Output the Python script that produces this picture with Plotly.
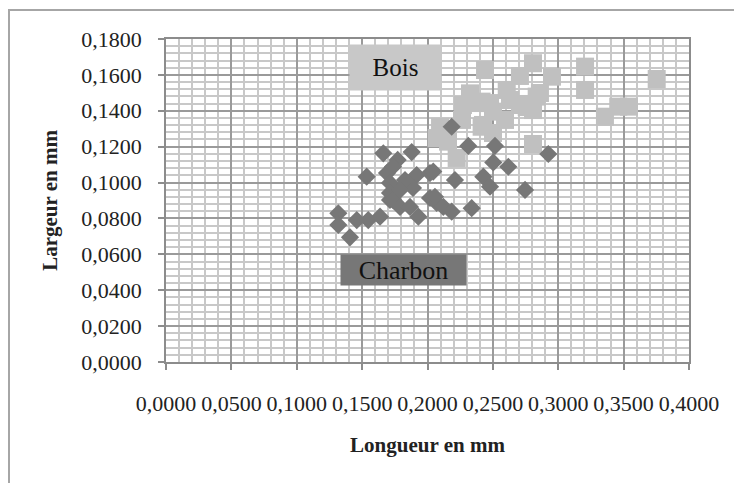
import plotly.graph_objects as go

# Charbon (dark diamonds): Longueur (x), Largeur (y) in mm
charbon_x = [0.1318, 0.1318, 0.1407, 0.1459, 0.1547, 0.1637, 0.1535, 0.1662, 0.1879, 0.1772,
             0.1690, 0.1713, 0.1713, 0.1736, 0.1917, 0.2019, 0.1889, 0.1713, 0.1736, 0.1790,
             0.1866, 0.1930, 0.2019, 0.2070, 0.2121, 0.2185, 0.2338, 0.2057, 0.2044, 0.2210,
             0.2185, 0.2312, 0.2516, 0.2924, 0.2503, 0.2618, 0.2427, 0.2478, 0.2746, 0.1828,
             0.1790]
charbon_y = [0.0829, 0.0764, 0.0695, 0.0791, 0.0791, 0.0810, 0.1033, 0.1163, 0.1170, 0.1126,
             0.1053, 0.0998, 0.0903, 0.1088, 0.1042, 0.1053, 0.0970, 0.0942, 0.0903, 0.0864,
             0.0864, 0.0810, 0.0914, 0.0886, 0.0865, 0.0838, 0.0857, 0.0921, 0.1061, 0.1014,
             0.1311, 0.1204, 0.1204, 0.1159, 0.1112, 0.1088, 0.1033, 0.0977, 0.0959, 0.1014,
             0.0959]

# Bois (light squares)
bois_x = [0.2440, 0.2807, 0.2707, 0.2952, 0.3205, 0.3205, 0.3753, 0.2325, 0.2271, 0.2414,
          0.2501, 0.2606, 0.2631, 0.2746, 0.2835, 0.2807, 0.3357, 0.3459, 0.3541, 0.2096,
          0.2070, 0.2157, 0.2223, 0.2414, 0.2501, 0.2807, 0.2478, 0.2401, 0.2759, 0.2860,
          0.2424, 0.2707, 0.2264, 0.2593]
bois_y = [0.1627, 0.1665, 0.1594, 0.1590, 0.1646, 0.1516, 0.1577, 0.1497, 0.1432, 0.1451,
          0.1395, 0.1516, 0.1460, 0.1438, 0.1479, 0.1404, 0.1367, 0.1423, 0.1423, 0.1311,
          0.1248, 0.1228, 0.1137, 0.1311, 0.1276, 0.1215, 0.1443, 0.1443, 0.1421, 0.1499,
          0.1321, 0.1432, 0.1349, 0.1349]

x_ticks = [0.0, 0.05, 0.10, 0.15, 0.20, 0.25, 0.30, 0.35, 0.40]
y_ticks = [0.0, 0.02, 0.04, 0.06, 0.08, 0.10, 0.12, 0.14, 0.16, 0.18]

FONT = "Liberation Serif"
BOIS_COL = "#c0c0c0"
CHARBON_COL = "#777777"

fig = go.Figure()
fig.add_trace(go.Scatter(x=bois_x, y=bois_y, mode="markers", name="Bois",
                         marker=dict(symbol="square", size=18, color=BOIS_COL, line=dict(width=0))))
fig.add_trace(go.Scatter(x=charbon_x, y=charbon_y, mode="markers", name="Charbon",
                         marker=dict(symbol="diamond", size=14, color=CHARBON_COL, line=dict(width=0))))

axis_common = dict(
    showline=True, linecolor="#8c8c8c", linewidth=1.5, mirror=True,
    showgrid=True, gridcolor="#9a9a9a", gridwidth=1.5,
    ticks="outside", ticklen=6, tickcolor="#8c8c8c", tickwidth=1.5,
    zeroline=False, tickformat=".4f",
    tickfont=dict(family=FONT, size=22, color="#222"),
)

fig.update_xaxes(range=[0, 0.4], tickvals=x_ticks, ticklabelstandoff=15,
                 minor=dict(dtick=0.01, showgrid=True, gridcolor="#c8c8c8", gridwidth=1.5),
                 title=dict(text="<b>Longueur en mm</b>", font=dict(family=FONT, size=21, color="#222"),
                            standoff=22),
                 **axis_common)
fig.update_yaxes(range=[0, 0.18], tickvals=y_ticks, ticklabelstandoff=12,
                 minor=dict(dtick=0.004, showgrid=True, gridcolor="#c8c8c8", gridwidth=1.5),
                 title=dict(text="<b>Largeur en mm</b>", font=dict(family=FONT, size=21, color="#222"),
                            standoff=18),
                 **axis_common)

fig.add_annotation(x=0.1755, y=0.1641, xref="x", yref="y", text="Bois", showarrow=False,
                   bgcolor="#c8c8c8", width=91, height=45, borderpad=0,
                   font=dict(family=FONT, size=25, color="#111"))
fig.add_annotation(x=0.1816, y=0.0513, xref="x", yref="y", text="Charbon", showarrow=False,
                   bgcolor=CHARBON_COL, width=125, height=30, borderpad=0,
                   font=dict(family=FONT, size=26, color="#111"))

# outer chart border (only top and left visible)
fig.add_shape(type="rect", xref="paper", yref="paper", x0=-0.3002, y0=-0.6, x1=1.3, y1=1.0898,
              line=dict(color="#a6a6a6", width=2), layer="below")

fig.update_layout(
    width=734, height=475, autosize=False,
    margin=dict(l=158, r=53, t=31, b=121),
    paper_bgcolor="white", plot_bgcolor="white",
    showlegend=False, separators=", ",
    font=dict(family=FONT),
)

fig.write_html("out.html")
